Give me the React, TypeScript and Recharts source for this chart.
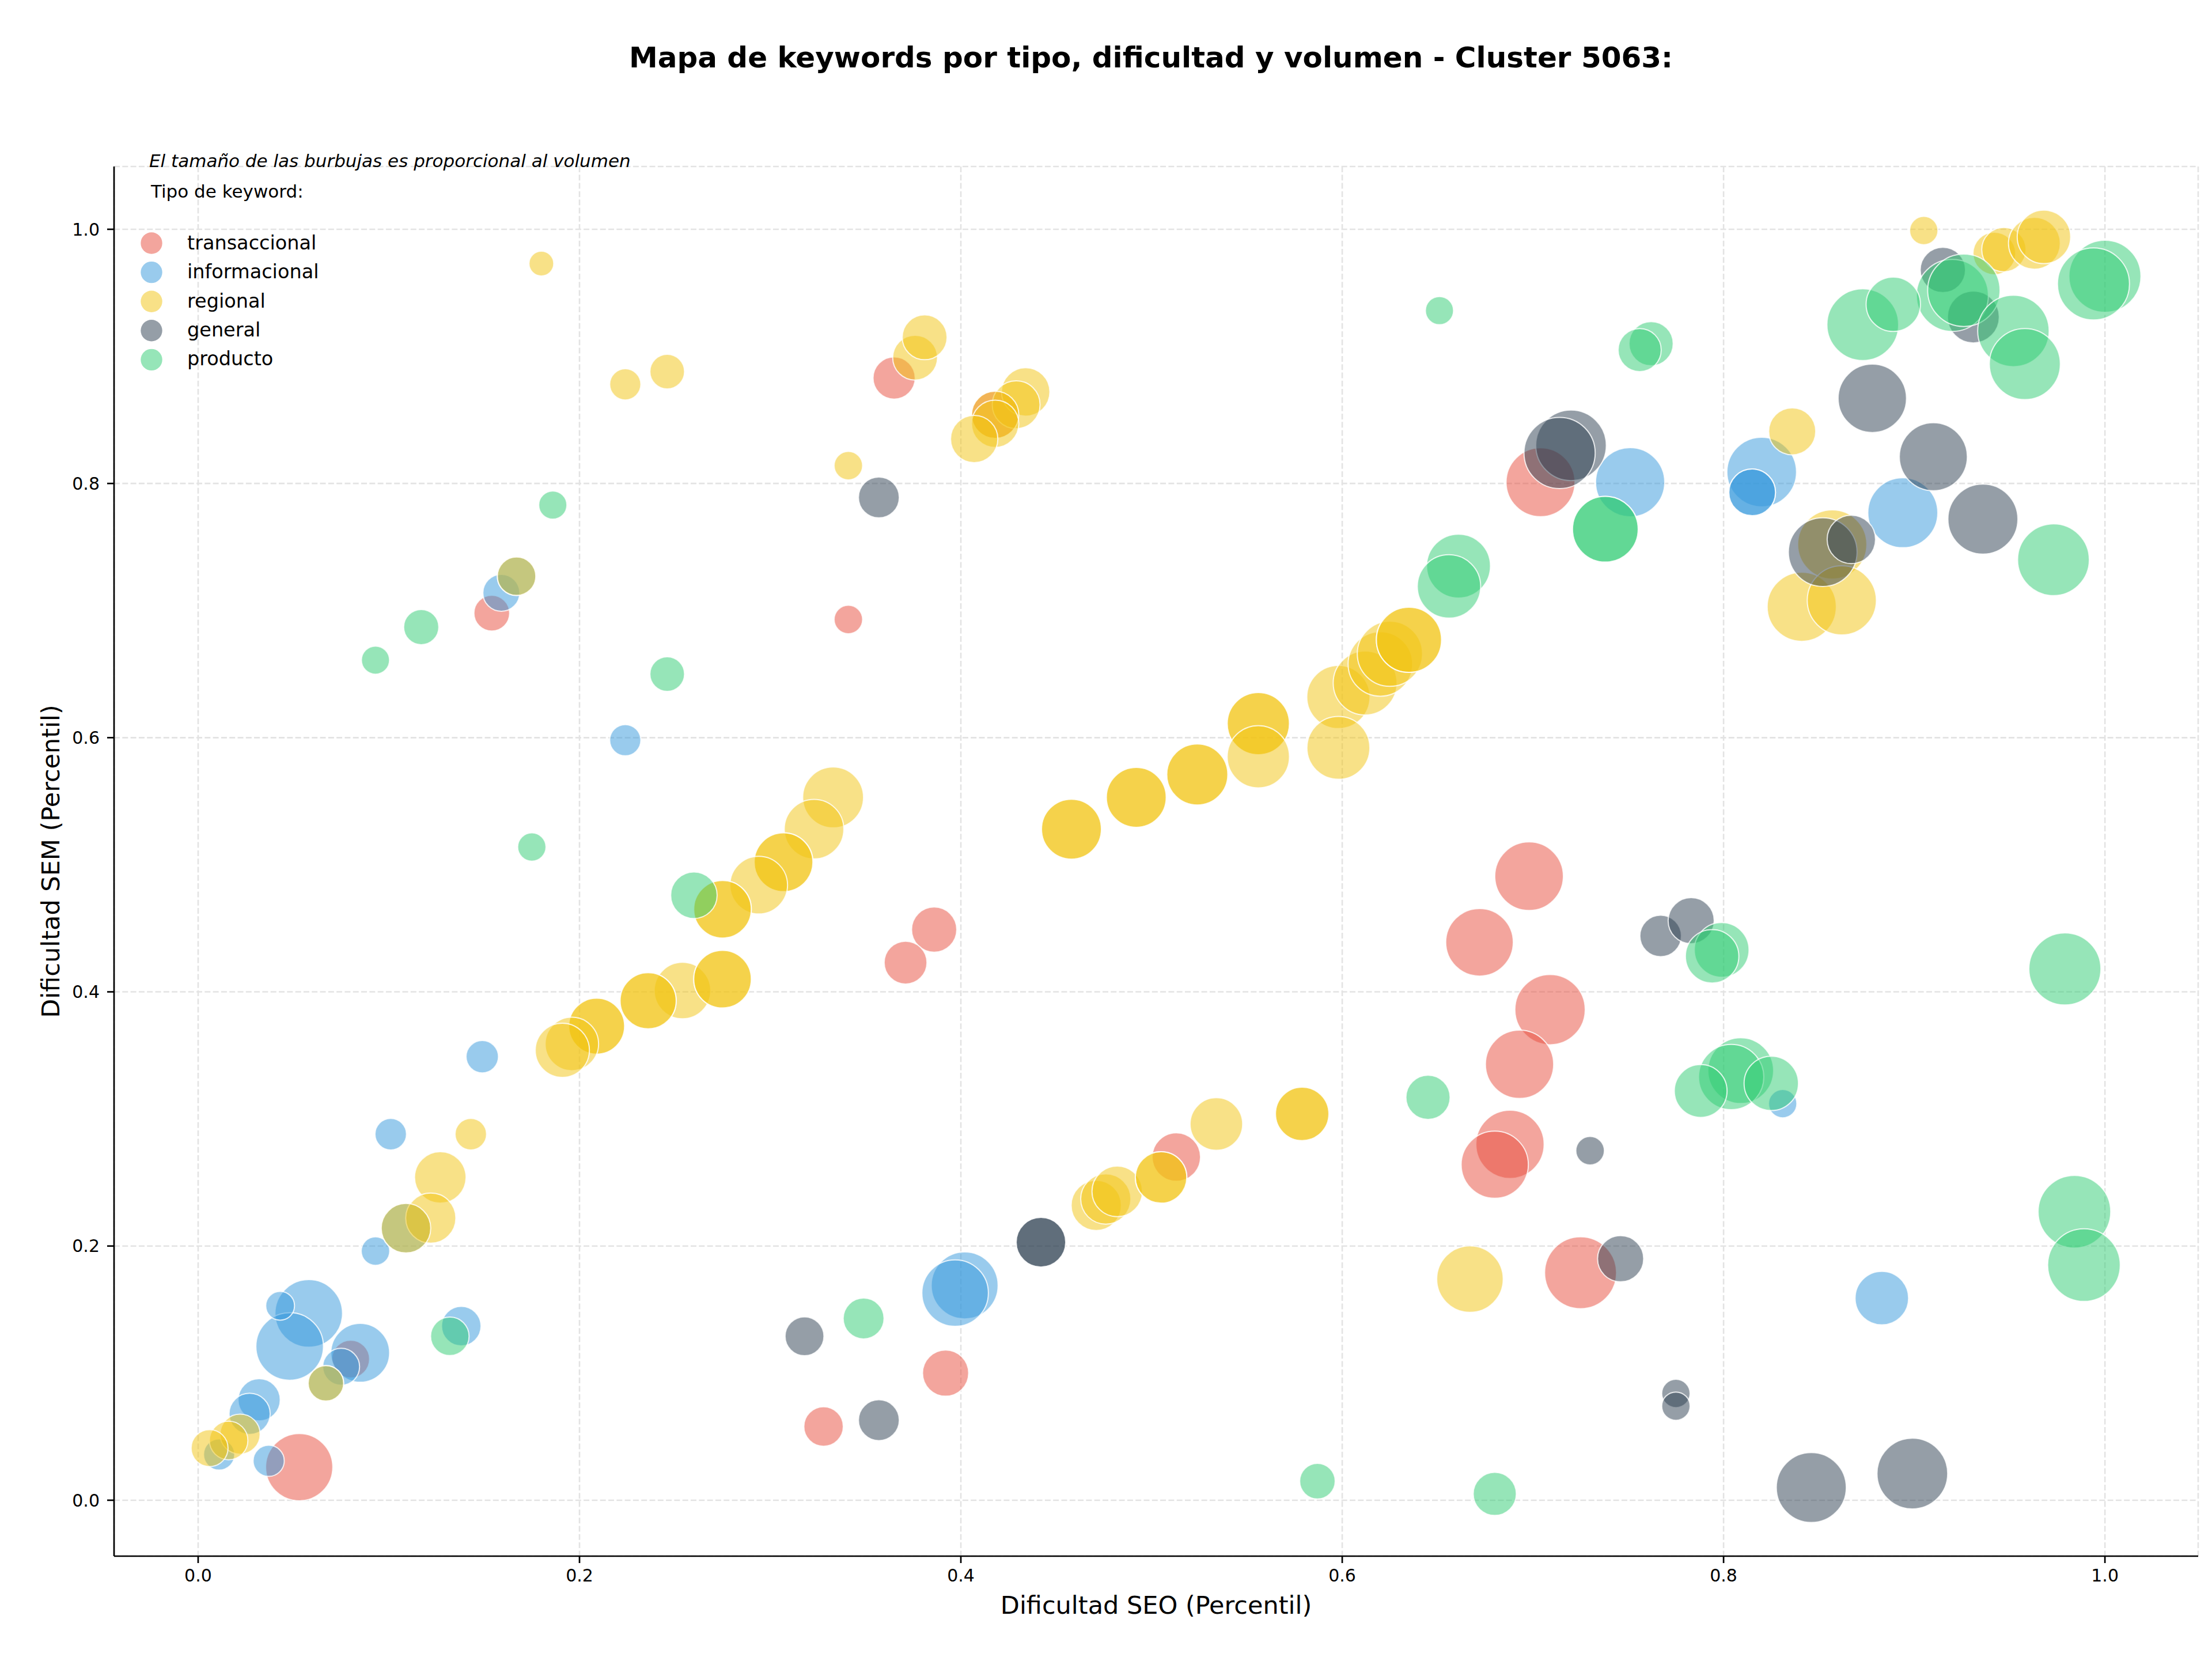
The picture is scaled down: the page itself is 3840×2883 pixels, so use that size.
import { ScatterChart, Scatter, XAxis, YAxis, ZAxis, CartesianGrid } from "recharts";

const W = 3840;
const H = 2883;
const FONT = '"DejaVu Sans", sans-serif';

// [dificultad SEO, dificultad SEM, volumen]
type Row = [number, number, number];

const transaccional: Row[] = [
  [0.365, 0.883, 337],
  [0.418, 0.854, 424],
  [0.154, 0.698, 242],
  [0.341, 0.693, 154],
  [0.386, 0.449, 387],
  [0.371, 0.423, 347],
  [0.08, 0.111, 271],
  [0.053, 0.026, 856],
  [0.392, 0.1, 403],
  [0.328, 0.058, 295],
  [0.513, 0.27, 444],
  [0.698, 0.491, 892],
  [0.672, 0.439, 865],
  [0.709, 0.386, 938],
  [0.693, 0.343, 883],
  [0.688, 0.28, 883],
  [0.68, 0.264, 856],
  [0.725, 0.179, 981],
  [0.704, 0.801, 901],
];

const informacional: Row[] = [
  [0.159, 0.714, 258],
  [0.167, 0.727, 281],
  [0.224, 0.598, 184],
  [0.149, 0.349, 199],
  [0.101, 0.288, 188],
  [0.093, 0.196, 154],
  [0.109, 0.214, 466],
  [0.058, 0.147, 865],
  [0.048, 0.121, 865],
  [0.043, 0.153, 157],
  [0.085, 0.116, 655],
  [0.075, 0.105, 258],
  [0.067, 0.092, 239],
  [0.032, 0.079, 337],
  [0.027, 0.068, 321],
  [0.011, 0.036, 184],
  [0.037, 0.031, 184],
  [0.138, 0.137, 295],
  [0.402, 0.169, 848],
  [0.397, 0.163, 839],
  [0.751, 0.801, 907],
  [0.82, 0.809, 919],
  [0.815, 0.793, 413],
  [0.815, 0.793, 413],
  [0.894, 0.777, 928],
  [0.831, 0.312, 152],
  [0.883, 0.159, 542],
];

const regional: Row[] = [
  [0.18, 0.973, 116],
  [0.224, 0.878, 184],
  [0.246, 0.888, 227],
  [0.376, 0.899, 381],
  [0.381, 0.915, 381],
  [0.341, 0.814, 154],
  [0.434, 0.872, 444],
  [0.429, 0.862, 434],
  [0.418, 0.854, 424],
  [0.418, 0.847, 424],
  [0.407, 0.835, 424],
  [0.167, 0.727, 281],
  [0.333, 0.553, 702],
  [0.323, 0.528, 673],
  [0.307, 0.502, 655],
  [0.307, 0.502, 655],
  [0.294, 0.484, 630],
  [0.275, 0.465, 630],
  [0.275, 0.465, 630],
  [0.254, 0.401, 605],
  [0.275, 0.41, 630],
  [0.275, 0.41, 630],
  [0.236, 0.393, 598],
  [0.236, 0.393, 598],
  [0.209, 0.373, 593],
  [0.209, 0.373, 593],
  [0.196, 0.359, 542],
  [0.191, 0.354, 557],
  [0.143, 0.288, 188],
  [0.127, 0.254, 503],
  [0.122, 0.222, 477],
  [0.109, 0.214, 466],
  [0.067, 0.092, 239],
  [0.022, 0.052, 305],
  [0.016, 0.047, 281],
  [0.006, 0.041, 258],
  [0.458, 0.528, 681],
  [0.458, 0.528, 681],
  [0.492, 0.553, 681],
  [0.492, 0.553, 681],
  [0.524, 0.571, 708],
  [0.524, 0.571, 708],
  [0.556, 0.611, 735],
  [0.556, 0.611, 735],
  [0.556, 0.585, 735],
  [0.598, 0.632, 757],
  [0.598, 0.592, 751],
  [0.612, 0.643, 773],
  [0.62, 0.658, 790],
  [0.625, 0.666, 807],
  [0.635, 0.677, 807],
  [0.635, 0.677, 807],
  [0.471, 0.232, 477],
  [0.476, 0.237, 477],
  [0.482, 0.243, 483],
  [0.505, 0.254, 503],
  [0.505, 0.254, 503],
  [0.534, 0.296, 524],
  [0.579, 0.304, 542],
  [0.579, 0.304, 542],
  [0.667, 0.174, 839],
  [0.836, 0.841, 419],
  [0.857, 0.752, 907],
  [0.841, 0.703, 907],
  [0.862, 0.708, 907],
  [0.905, 0.999, 152],
  [0.942, 0.981, 345],
  [0.947, 0.984, 372],
  [0.963, 0.989, 510],
  [0.968, 0.994, 542],
];

const general: Row[] = [
  [0.357, 0.789, 316],
  [0.72, 0.83, 944],
  [0.714, 0.824, 962],
  [0.442, 0.203, 466],
  [0.442, 0.203, 466],
  [0.318, 0.129, 286],
  [0.357, 0.063, 316],
  [0.767, 0.444, 327],
  [0.783, 0.456, 403],
  [0.73, 0.275, 154],
  [0.746, 0.19, 403],
  [0.775, 0.084, 152],
  [0.775, 0.074, 152],
  [0.846, 0.01, 928],
  [0.899, 0.021, 947],
  [0.915, 0.968, 389],
  [0.931, 0.931, 510],
  [0.878, 0.867, 886],
  [0.91, 0.821, 877],
  [0.936, 0.772, 928],
  [0.852, 0.746, 895],
  [0.867, 0.756, 444],
];

const producto: Row[] = [
  [0.186, 0.783, 150],
  [0.117, 0.687, 234],
  [0.093, 0.661, 150],
  [0.175, 0.514, 152],
  [0.246, 0.65, 227],
  [0.26, 0.476, 409],
  [0.132, 0.129, 281],
  [0.349, 0.143, 316],
  [0.651, 0.936, 150],
  [0.762, 0.91, 370],
  [0.756, 0.905, 352],
  [0.738, 0.764, 819],
  [0.738, 0.764, 819],
  [0.661, 0.735, 773],
  [0.656, 0.719, 762],
  [0.645, 0.317, 370],
  [0.587, 0.015, 239],
  [0.68, 0.005, 352],
  [0.799, 0.433, 568],
  [0.794, 0.428, 542],
  [0.979, 0.418, 984],
  [0.809, 0.338, 819],
  [0.804, 0.333, 807],
  [0.825, 0.328, 561],
  [0.788, 0.322, 528],
  [0.984, 0.227, 1000],
  [0.989, 0.185, 1000],
  [0.92, 0.948, 984],
  [0.926, 0.952, 994],
  [1.0, 0.963, 984],
  [0.994, 0.957, 984],
  [0.873, 0.925, 975],
  [0.889, 0.941, 561],
  [0.952, 0.92, 969],
  [0.958, 0.894, 956],
  [0.973, 0.74, 975],
];

const xTicks = [0, 0.2, 0.4, 0.6, 0.8, 1.0];
const yTicks = [0, 0.2, 0.4, 0.6, 0.8, 1.0];

const series = [
  { name: "transaccional", color: "#E74C3C", rows: transaccional },
  { name: "informacional", color: "#3498DB", rows: informacional },
  { name: "regional", color: "#F1C40F", rows: regional },
  { name: "general", color: "#2C3E50", rows: general },
  { name: "producto", color: "#2ECC71", rows: producto },
];

const toPoints = (rows: Row[]) => rows.map(([seo, sem, vol]) => ({ seo, sem, vol }));

const tickStyle = { fontSize: 30, fill: "#000", fontFamily: FONT };
const lineStyle = { stroke: "#000", strokeWidth: 2.7 };

export default function App() {
  return (
    <div style={{ position: "absolute", left: 0, top: 0, width: W, height: H, background: "#fff" }}>
      <ScatterChart width={W} height={H} margin={{ top: 289, right: 24, bottom: 0, left: 0 }}>
        <CartesianGrid stroke="#e3e3e3" strokeWidth={2.6} strokeDasharray="10 4.3" />
        <XAxis
          type="number"
          dataKey="seo"
          domain={[-0.0441, 1.0489]}
          ticks={xTicks}
          interval={0}
          allowDataOverflow
          height={182}
          tickFormatter={(v: number) => v.toFixed(1)}
          tick={tickStyle}
          tickSize={12}
          tickMargin={11}
          axisLine={lineStyle}
          tickLine={lineStyle}
        />
        <YAxis
          type="number"
          dataKey="sem"
          domain={[-0.044, 1.0494]}
          ticks={yTicks}
          interval={0}
          allowDataOverflow
          width={198}
          tickFormatter={(v: number) => v.toFixed(1)}
          tick={tickStyle}
          tickSize={12}
          tickMargin={13}
          axisLine={lineStyle}
          tickLine={lineStyle}
        />
        <ZAxis type="number" dataKey="vol" domain={[0, 1000]} range={[0, Math.PI * 63 * 63]} />
        {series.map((s) => (
          <Scatter
            key={s.name}
            name={s.name}
            data={toPoints(s.rows)}
            fill={s.color}
            fillOpacity={0.5}
            stroke="#ffffff"
            strokeOpacity={0.8}
            strokeWidth={2}
            isAnimationActive={false}
          />
        ))}
      </ScatterChart>

      <svg
        width={W}
        height={H}
        style={{ position: "absolute", left: 0, top: 0, pointerEvents: "none" }}
        fontFamily={FONT}
      >
        <text x={1998} y={117} textAnchor="middle" fontSize={50} fontWeight="bold" fill="#000">
          Mapa de keywords por tipo, dificultad y volumen - Cluster 5063:
        </text>
        <text x={259} y={290} fontSize={31} fontStyle="italic" fill="#000">
          El tamaño de las burbujas es proporcional al volumen
        </text>
        <text x={262} y={343} fontSize={31} fill="#000">
          Tipo de keyword:
        </text>
        {series.map((s, i) => (
          <g key={s.name}>
            <circle cx={263} cy={422 + i * 50.6} r={18.7} fill={s.color} fillOpacity={0.5} />
            <text x={325} y={433 + i * 50.3} fontSize={33.5} fill="#000">
              {s.name}
            </text>
          </g>
        ))}
        <text x={2007} y={2801} textAnchor="middle" fontSize={43} fill="#000">
          Dificultad SEO (Percentil)
        </text>
        <text
          transform="translate(103,1495) rotate(-90)"
          textAnchor="middle"
          fontSize={43}
          fill="#000"
        >
          Dificultad SEM (Percentil)
        </text>
      </svg>
    </div>
  );
}
